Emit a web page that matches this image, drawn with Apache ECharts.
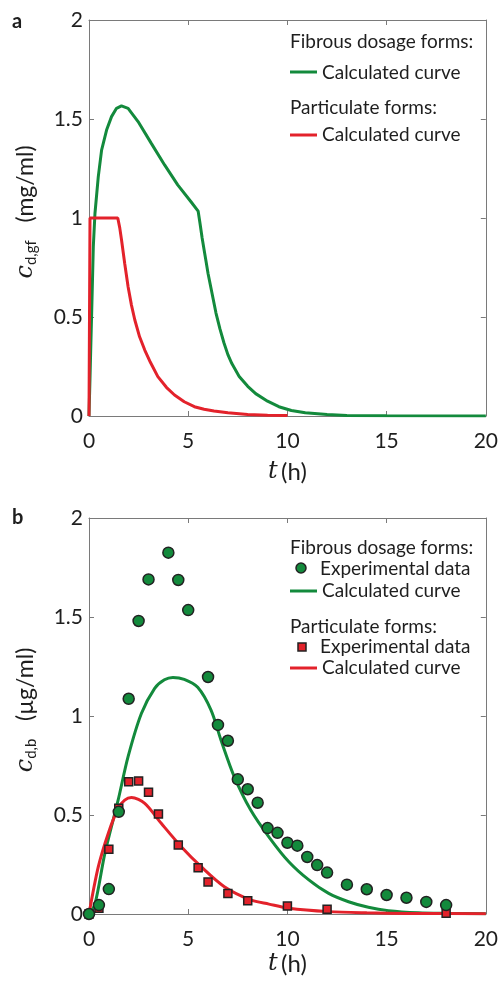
<!DOCTYPE html>
<html><head><meta charset="utf-8">
<script src="https://cdn.jsdelivr.net/npm/echarts@6/dist/echarts.min.js"></script>
<style>html,body{margin:0;padding:0;background:#fff}#chart{width:501px;height:982px}</style>
</head><body><div id="chart"></div>
<script>
// Panel a: drug concentration in the gastric fluid (mg/ml)
const aFibrousT = [0, 0.05, 0.09, 0.134, 0.217, 0.301, 0.468, 0.635, 0.886, 1.136, 1.387, 1.637, 1.971, 2.473, 3.14, 3.81, 4.47, 5.14, 5.5, 5.6, 5.7, 5.8, 5.9, 6.0, 6.2, 6.4, 6.6, 6.8, 7.0, 7.2, 7.57, 8.0, 8.4, 9.0, 9.57, 10.2, 10.9, 12, 13, 15, 20];
const aFibrousC = [0, 0.19, 0.35, 0.519, 0.855, 1.024, 1.209, 1.343, 1.444, 1.512, 1.554, 1.566, 1.554, 1.487, 1.377, 1.268, 1.167, 1.082, 1.035, 0.97, 0.90, 0.84, 0.78, 0.72, 0.62, 0.52, 0.44, 0.37, 0.31, 0.265, 0.20, 0.15, 0.113, 0.075, 0.047, 0.028, 0.016, 0.007, 0.003, 0.001, 0];
const aPartT = [0, 0.05, 1.45, 1.55, 1.64, 1.8, 1.97, 2.14, 2.31, 2.55, 2.81, 3.1, 3.47, 3.9, 4.31, 4.8, 5.31, 5.8, 6.3, 7, 8, 9, 10];
const aPartC = [0, 1.0, 1.0, 0.95, 0.889, 0.77, 0.653, 0.56, 0.485, 0.40, 0.333, 0.27, 0.199, 0.145, 0.106, 0.072, 0.047, 0.034, 0.025, 0.016, 0.008, 0.004, 0.002];

// Panel b: drug concentration in the blood (µg/ml)
const bFibrousExpT = [0, 0.5, 1, 1.5, 2, 2.5, 3, 4, 4.5, 5, 6, 6.5, 7, 7.5, 8, 8.5, 9, 9.5, 10, 10.5, 11, 11.5, 12, 13, 14, 15, 16, 17, 18];
const bFibrousExpC = [0, 0.045, 0.126, 0.516, 1.087, 1.48, 1.69, 1.825, 1.687, 1.535, 1.197, 0.955, 0.875, 0.68, 0.63, 0.562, 0.434, 0.41, 0.36, 0.345, 0.288, 0.247, 0.209, 0.148, 0.125, 0.096, 0.082, 0.061, 0.045];
const bFibrousCalcT = [0, 0.3, 0.8, 1.47, 1.97, 2.64, 3.31, 3.8, 4.23, 4.8, 5.48, 6.15, 6.65, 7.32, 8.15, 9.1, 10.07, 11.08, 12.08, 13.08, 14.08, 15.09, 16.6, 18, 20];
const bFibrousCalcC = [0, 0.05, 0.306, 0.576, 0.795, 1.013, 1.14, 1.183, 1.195, 1.185, 1.145, 1.03, 0.879, 0.694, 0.525, 0.385, 0.264, 0.172, 0.104, 0.062, 0.034, 0.017, 0.006, 0.003, 0.001];
const bPartExpT = [0, 0.5, 1, 1.5, 2, 2.5, 3, 3.5, 4.5, 5.5, 6, 7, 8, 10, 12, 18];
const bPartExpC = [0, 0.029, 0.327, 0.534, 0.668, 0.672, 0.615, 0.505, 0.348, 0.234, 0.162, 0.104, 0.067, 0.04, 0.024, 0.004];
const bPartCalcT = [0, 0.47, 0.97, 1.47, 1.8, 2.14, 2.81, 3.64, 4.65, 5.65, 6.82, 8.15, 9.07, 10.07, 12.08, 14, 16, 20];
const bPartCalcC = [0, 0.239, 0.407, 0.534, 0.575, 0.588, 0.559, 0.458, 0.34, 0.239, 0.138, 0.071, 0.05, 0.029, 0.012, 0.006, 0.003, 0.001];

const xTicks = [0, 5, 10, 15, 20];
const yTicks = [0, 0.5, 1, 1.5, 2];

const GREEN = '#138a3c';
const RED = '#e3222b';
const AXIS = '#7a7a7a';
const FONT = 'Lato';
const TXT = '#1e1e1e';

const pairs = (xs, ys) => xs.map((x, i) => [x, ys[i]]);

const frameLine = { onZero: false, lineStyle: { color: AXIS, width: 1 } };
const frameTick = { show: true, inside: true, length: 5, lineStyle: { color: AXIS } };

function mainX(grid, gap) {
  return {
    type: 'value', gridIndex: grid, min: 0, max: 20, interval: 5, position: 'bottom',
    axisLine: frameLine, axisTick: frameTick,
    axisLabel: { inside: false, color: TXT, fontSize: 21, fontFamily: FONT, margin: 15,
      formatter: v => xTicks.includes(v) ? String(v) : '' },
    splitLine: { show: false },
    name: '{t|t} {u|(h)}', nameLocation: 'middle', nameGap: gap,
    nameTextStyle: { rich: {
      t: { fontFamily: 'DejaVu Serif', fontStyle: 'italic', fontSize: 24, color: TXT },
      u: { fontFamily: FONT, fontSize: 24, color: TXT } } }
  };
}
function mirrorX(grid) {
  return {
    type: 'value', gridIndex: grid, min: 0, max: 20, interval: 5, position: 'top',
    axisLine: frameLine, axisTick: frameTick,
    axisLabel: { show: false }, splitLine: { show: false }
  };
}
function mainY(grid, sub, unit) {
  return {
    type: 'value', gridIndex: grid, min: 0, max: 2, interval: 0.5, position: 'left',
    axisLine: Object.assign({ show: true }, frameLine), axisTick: frameTick,
    axisLabel: { inside: false, color: TXT, fontSize: 21, fontFamily: FONT, margin: 6,
      formatter: v => yTicks.includes(v) ? String(v) : '' },
    splitLine: { show: false },
    name: '{c|c}{s|' + sub + '}{u|   ' + unit + '}', nameLocation: 'middle', nameGap: 50, nameRotate: 90,
    nameTextStyle: { padding: [0, 0, 0, 12], rich: {
      c: { fontFamily: 'DejaVu Serif', fontStyle: 'italic', fontSize: 24, color: TXT },
      s: { fontFamily: FONT, fontSize: 15, color: TXT, padding: [12, 0, 0, 0] },
      u: { fontFamily: FONT, fontSize: 23, color: TXT } } }
  };
}
function mirrorY(grid) {
  return {
    type: 'value', gridIndex: grid, min: 0, max: 2, interval: 0.5, position: 'right',
    axisLine: Object.assign({ show: true }, frameLine), axisTick: frameTick,
    axisLabel: { show: false }, splitLine: { show: false }
  };
}

function curve(name, xi, yi, data, color, smooth) {
  return { name, type: 'line', xAxisIndex: xi, yAxisIndex: yi, data, showSymbol: false, symbol: 'none',
    smooth: smooth, lineStyle: { color, width: 3 }, animation: false, z: 2 };
}
function points(name, xi, yi, data, color, symbol, size, z) {
  return { name, type: 'scatter', xAxisIndex: xi, yAxisIndex: yi, data, symbol, symbolSize: size,
    itemStyle: { color, borderColor: '#222', borderWidth: 1.5, opacity: 1 }, animation: false, z };
}

function legendText(x, y, text) {
  return { type: 'text', x, y, style: { text, fontFamily: FONT, fontSize: 19, fill: TXT, verticalAlign: 'middle' } };
}
function legendLine(y, color) {
  return { type: 'line', shape: { x1: 290, y1: y, x2: 317, y2: y }, style: { stroke: color, lineWidth: 3 } };
}

const chart = echarts.init(document.getElementById('chart'), null, { renderer: 'canvas' });
chart.setOption({
  backgroundColor: '#fff',
  animation: false,
  grid: [
    { left: 89, top: 20, width: 399, height: 396 },
    { left: 89, top: 518, width: 399, height: 396 }
  ],
  xAxis: [mainX(0, 44), mirrorX(0), mainX(1, 38), mirrorX(1)],
  yAxis: [mainY(0, 'd,gf', '(mg/ml)'), mirrorY(0), mainY(1, 'd,b', '(µg/ml)'), mirrorY(1)],
  series: [
    curve('Fibrous calculated (a)', 0, 0, pairs(aFibrousT, aFibrousC), GREEN, false),
    curve('Particulate calculated (a)', 0, 0, pairs(aPartT, aPartC), RED, false),
    curve('Fibrous calculated (b)', 2, 2, pairs(bFibrousCalcT, bFibrousCalcC), GREEN, 0.3),
    curve('Particulate calculated (b)', 2, 2, pairs(bPartCalcT, bPartCalcC), RED, 0.3),
    points('Particulate experimental', 2, 2, pairs(bPartExpT, bPartExpC), RED, 'rect', 8, 4),
    points('Fibrous experimental', 2, 2, pairs(bFibrousExpT, bFibrousExpC), GREEN, 'circle', 11, 5)
  ],
  graphic: [
    { type: 'text', x: 12, y: 22, style: { text: 'a', fontFamily: FONT, fontWeight: 'bold', fontSize: 20, fill: TXT, verticalAlign: 'middle' } },
    { type: 'text', x: 12, y: 518, style: { text: 'b', fontFamily: FONT, fontWeight: 'bold', fontSize: 20, fill: TXT, verticalAlign: 'middle' } },
    legendText(290, 42, 'Fibrous dosage forms:'),
    legendLine(72, GREEN), legendText(322, 73, 'Calculated curve'),
    legendText(290, 108, 'Particulate forms:'),
    legendLine(135, RED), legendText(322, 135, 'Calculated curve'),
    legendText(290, 548, 'Fibrous dosage forms:'),
    { type: 'circle', shape: { cx: 301, cy: 568, r: 5 }, style: { fill: GREEN, stroke: '#222', lineWidth: 1.5 } },
    legendText(320, 569, 'Experimental data'),
    legendLine(591, GREEN), legendText(322, 591, 'Calculated curve'),
    legendText(290, 627, 'Particulate forms:'),
    { type: 'rect', shape: { x: 298, y: 643, width: 8, height: 8 }, style: { fill: RED, stroke: '#222', lineWidth: 1.5 } },
    legendText(320, 647, 'Experimental data'),
    legendLine(668, RED), legendText(322, 668, 'Calculated curve')
  ]
});
</script></body></html>
